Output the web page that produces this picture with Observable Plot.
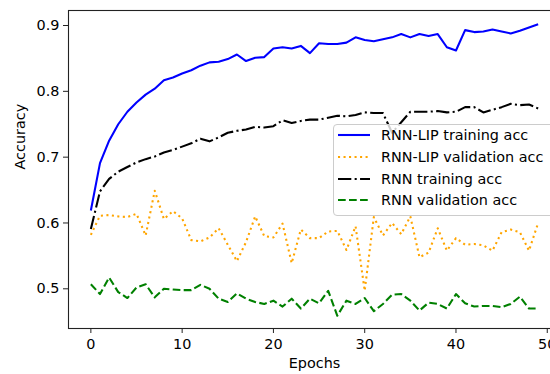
<!DOCTYPE html>
<html><head><meta charset="utf-8">
<script src="https://cdn.jsdelivr.net/npm/d3@7"></script>
<script src="https://cdn.jsdelivr.net/npm/@observablehq/plot@0.6"></script>
<style>
html,body{margin:0;padding:0;background:#fff;overflow:hidden;width:550px;height:374px}
#wrap{position:relative;width:560px;height:374px}
.legend{position:absolute;left:333px;top:124px;width:240px;height:90px;background:rgba(255,255,255,0.8);border:1px solid #ccc;border-radius:4px;font-family:"DejaVu Sans";font-size:14.4px;color:#000}
.row{position:absolute;left:4px;height:20px;display:flex;align-items:center;white-space:nowrap}
.row svg{margin-right:11px}
</style></head>
<body><div id="wrap"></div>
<script>
const epochs = d3.range(50);
const xTicks = [0, 10, 20, 30, 40, 50];
const yTicks = [0.5, 0.6, 0.7, 0.8, 0.9];
const seriesNames = ["RNN-LIP training acc", "RNN-LIP validation acc", "RNN training acc", "RNN validation acc"];
const lipTrain = [0.619,0.691,0.725,0.750,0.769,0.783,0.795,0.804,0.817,0.821,0.827,0.832,0.839,0.844,0.845,0.849,0.856,0.846,0.851,0.852,0.865,0.867,0.865,0.869,0.858,0.873,0.872,0.872,0.874,0.882,0.878,0.876,0.879,0.882,0.887,0.882,0.887,0.884,0.887,0.867,0.862,0.893,0.890,0.891,0.894,0.891,0.888,0.892,0.897,0.902];
const lipVal = [0.582,0.611,0.612,0.610,0.609,0.614,0.581,0.649,0.606,0.618,0.607,0.574,0.572,0.578,0.592,0.567,0.542,0.571,0.610,0.580,0.578,0.599,0.539,0.590,0.577,0.577,0.587,0.588,0.559,0.595,0.497,0.609,0.581,0.600,0.583,0.610,0.548,0.555,0.592,0.558,0.577,0.567,0.568,0.566,0.558,0.586,0.590,0.586,0.558,0.600];
const rnnTrain = [0.591,0.648,0.667,0.678,0.685,0.692,0.697,0.701,0.707,0.711,0.716,0.721,0.728,0.724,0.730,0.737,0.740,0.742,0.746,0.745,0.747,0.756,0.752,0.755,0.757,0.757,0.760,0.763,0.762,0.764,0.768,0.767,0.767,0.737,0.753,0.769,0.769,0.769,0.770,0.768,0.769,0.776,0.776,0.768,0.772,0.776,0.781,0.779,0.780,0.774];
const rnnVal = [0.507,0.492,0.517,0.495,0.486,0.502,0.507,0.487,0.500,0.499,0.498,0.498,0.506,0.500,0.485,0.480,0.493,0.485,0.480,0.477,0.482,0.473,0.485,0.470,0.485,0.478,0.497,0.459,0.482,0.477,0.486,0.466,0.477,0.491,0.492,0.482,0.467,0.479,0.477,0.470,0.492,0.478,0.473,0.474,0.474,0.472,0.477,0.488,0.470,0.470];

const lw = 2.08;
const fs = 14.4;
const styles = [
  {stroke: "blue", dash: null},
  {stroke: "orange", dash: [1*lw, 1.65*lw].join(",")},
  {stroke: "black", dash: [6.4*lw, 1.6*lw, 1*lw, 1.6*lw].join(",")},
  {stroke: "green", dash: [3.7*lw, 1.6*lw].join(",")}
];
const allValues = [lipTrain, lipVal, rnnTrain, rnnVal];
const seriesData = allValues.map((vals, s) => epochs.map((e, i) => ({epoch: e, value: vals[i], series: seriesNames[s]})));

const chart = Plot.plot({
  width: 560, height: 374,
  marginLeft: 68, marginRight: 0, marginTop: 10, marginBottom: 46,
  style: {fontFamily: "DejaVu Sans", fontSize: fs + "px", color: "#000", background: "white", overflow: "visible"},
  x: {domain: [-2.45, 51.45]},
  y: {domain: [0.4397, 0.9228]},
  marks: [
    ...seriesData.map((d, s) => Plot.line(d, {
      x: "epoch", y: "value", stroke: styles[s].stroke, strokeWidth: lw,
      strokeDasharray: styles[s].dash ?? undefined, strokeLinecap: "butt", strokeLinejoin: "round"
    })),
    Plot.frame({stroke: "#222", strokeWidth: 1.1}),
    Plot.axisX({ticks: xTicks, tickSize: 5, tickPadding: 5, label: null, stroke: "#222"}),
    Plot.axisY({ticks: yTicks, tickSize: 5, tickPadding: 4, label: null, tickFormat: d3.format(".1f"), stroke: "#222"}),
    Plot.text(["Epochs"], {text: d => d, frameAnchor: "bottom", dy: 39, fontSize: fs, fill: "#000"}),
    Plot.text(["Accuracy"], {text: d => d, frameAnchor: "left", dx: -48, rotate: -90, fontSize: fs, fill: "#000"})
  ]
});
const wrap = document.getElementById("wrap");
wrap.appendChild(chart);

const legend = document.createElement("div");
legend.className = "legend";
const rowCenters = [10, 32, 54, 75];
seriesNames.forEach((name, s) => {
  const row = document.createElement("div");
  row.className = "row";
  row.style.top = (rowCenters[s] - 10) + "px";
  const ns = "http://www.w3.org/2000/svg";
  const svg = document.createElementNS(ns, "svg");
  svg.setAttribute("width", 32); svg.setAttribute("height", 20);
  const ln = document.createElementNS(ns, "line");
  ln.setAttribute("x1", 0); ln.setAttribute("x2", 32); ln.setAttribute("y1", 10); ln.setAttribute("y2", 10);
  ln.setAttribute("stroke", styles[s].stroke); ln.setAttribute("stroke-width", lw);
  if (styles[s].dash) ln.setAttribute("stroke-dasharray", styles[s].dash);
  svg.appendChild(ln);
  row.appendChild(svg);
  const span = document.createElement("span");
  span.textContent = name;
  row.appendChild(span);
  legend.appendChild(row);
});
wrap.appendChild(legend);
</script>
</body></html>
